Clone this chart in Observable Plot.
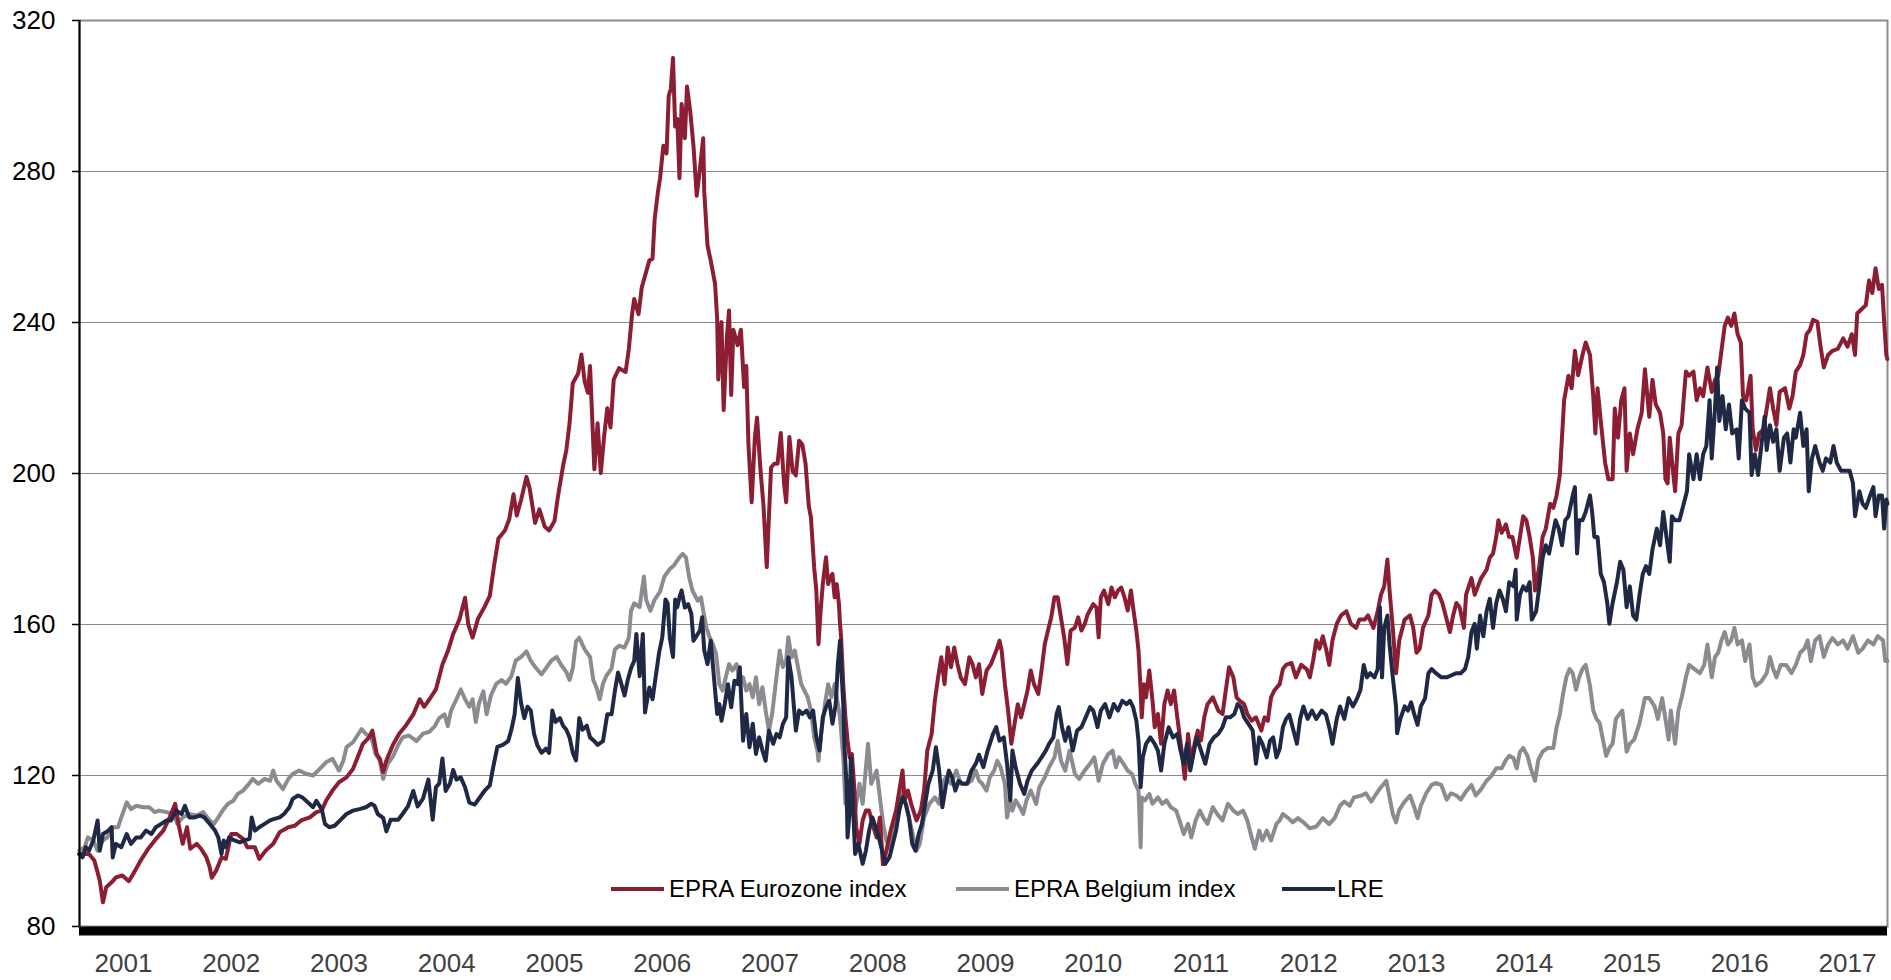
<!DOCTYPE html>
<html><head><meta charset="utf-8">
<script src="https://cdn.jsdelivr.net/npm/d3@7"></script>
<script src="https://cdn.jsdelivr.net/npm/@observablehq/plot@0.6"></script>
<style>
body{margin:0;background:#fff;}
#wrap{position:relative;width:1891px;height:980px;overflow:hidden;}
#legbox{position:absolute;left:600px;top:866px;width:795px;height:46px;background:#fff;}
.leg{position:absolute;top:875px;height:28px;line-height:28px;display:flex;align-items:center;font-family:"Liberation Sans",Arial,sans-serif;font-size:24px;color:#000;white-space:nowrap;}
.sw{display:inline-block;width:53px;height:4px;margin-right:5px;}
</style></head><body><div id="wrap"></div>
<script>
const seriesNames = ["EPRA Eurozone index", "EPRA Belgium index", "LRE"];
const seriesColors = ["#8b1e32", "#8c8c90", "#1f2945"];
const yTicks = [80, 120, 160, 200, 240, 280, 320];
const xYears = [2001,2002,2003,2004,2005,2006,2007,2008,2009,2010,2011,2012,2013,2014,2015,2016,2017];
const xDomain = [2000.592, 2017.371];

const eurozone = [
[2000.59,99.2],[2000.68,99.2],[2000.73,97.5],[2000.78,92.2],[2000.81,86.4],[2000.84,90.4],[2000.89,91.7],[2000.93,93.0],[2000.99,93.5],[2001.05,92.0],[2001.10,94.4],[2001.16,97.5],[2001.23,100.6],[2001.29,102.8],[2001.37,105.4],[2001.43,109.0],[2001.48,112.5],[2001.51,107.2],[2001.55,101.9],[2001.59,106.3],[2001.62,100.6],[2001.68,101.9],[2001.72,100.6],[2001.77,98.3],[2001.80,95.7],[2001.82,92.9],[2001.86,94.8],[2001.91,98.3],[2001.95,97.9],[2002.00,104.5],[2002.05,104.5],[2002.11,103.2],[2002.15,101.0],[2002.22,101.0],[2002.26,97.9],[2002.32,100.1],[2002.39,101.9],[2002.45,105.0],[2002.53,106.3],[2002.59,106.7],[2002.65,108.1],[2002.73,108.9],[2002.79,110.3],[2002.84,110.7],[2002.88,113.3],[2002.94,116.0],[2003.00,118.2],[2003.07,119.5],[2003.13,121.7],[2003.18,125.3],[2003.22,128.3],[2003.28,130.1],[2003.31,131.9],[2003.35,125.7],[2003.38,124.4],
[2003.41,121.0],[2003.44,124.0],[2003.50,128.1],[2003.56,131.1],[2003.62,133.2],[2003.69,136.2],[2003.75,140.2],[2003.79,138.2],[2003.84,140.2],[2003.90,142.8],[2003.96,149.4],[2004.01,152.9],[2004.06,157.5],[2004.12,161.5],[2004.17,167.1],[2004.20,160.0],[2004.24,156.5],[2004.29,161.5],[2004.35,164.6],[2004.40,167.6],[2004.44,175.7],[2004.48,182.8],[2004.54,184.9],[2004.58,187.9],[2004.62,194.5],[2004.65,188.9],[2004.69,193.0],[2004.74,199.1],[2004.77,196.0],[2004.82,186.9],[2004.86,190.5],[2004.91,185.9],[2004.95,184.9],[2005.00,187.4],[2005.03,193.5],[2005.08,202.1],[2005.11,206.2],[2005.14,213.3],[2005.17,223.9],[2005.22,226.5],[2005.25,231.5],[2005.28,224.4],[2005.31,221.4],[2005.33,228.5],[2005.37,201.1],[2005.40,213.3],[2005.43,200.1],
[2005.46,209.7],[2005.49,217.3],[2005.52,212.2],[2005.55,224.9],[2005.60,227.9],[2005.66,226.9],[2005.69,233.0],[2005.72,242.2],[2005.74,246.2],[2005.78,242.2],[2005.81,249.3],[2005.84,252.3],[2005.88,256.4],[2005.91,256.9],[2005.93,267.5],[2005.96,274.6],[2005.98,278.2],[2006.01,286.8],[2006.04,284.8],[2006.06,300.0],[2006.08,302.0],[2006.10,310.1],[2006.12,291.9],[2006.14,293.9],[2006.16,278.2],[2006.18,297.9],[2006.21,288.8],[2006.23,302.5],[2006.26,295.9],[2006.29,286.8],[2006.32,273.6],[2006.35,280.7],[2006.38,288.8],[2006.39,274.6],[2006.42,260.4],[2006.45,256.4],[2006.49,250.3],[2006.51,241.1],[2006.52,224.9],[2006.55,240.1],[2006.57,216.8],[2006.60,236.1],[2006.62,243.2],[2006.64,220.8],[2006.66,238.1],[2006.70,234.0],[2006.73,238.1],[2006.76,222.9],[2006.78,228.5],[2006.80,207.7],[2006.83,192.4],[2006.86,209.7],[2006.88,214.8],[2006.91,201.6],[2006.94,191.4],[2006.97,175.2],[2007.01,201.6],[2007.04,202.6],[2007.07,202.6],[2007.10,210.7],[2007.13,197.5],[2007.15,192.4],[2007.18,209.7],[2007.21,200.6],[2007.24,199.5],[2007.27,208.7],[2007.30,207.7],[2007.33,202.6],[2007.36,191.4],
[2007.38,188.4],[2007.40,179.6],[2007.41,175.1],[2007.43,169.0],[2007.45,154.8],[2007.47,163.7],[2007.49,170.7],[2007.52,177.8],[2007.54,170.7],[2007.56,172.5],[2007.58,173.4],[2007.60,167.2],[2007.62,170.7],[2007.64,165.4],[2007.65,160.1],
[2007.66,156.6],[2007.68,144.2],[2007.70,135.4],[2007.72,129.2],[2007.74,124.8],[2007.76,125.7],[2007.78,117.8],[2007.80,106.3],[2007.83,101.9],[2007.86,108.1],[2007.89,110.7],[2007.92,110.7],[2007.95,107.2],[2007.99,103.6],[2008.02,108.9],[2008.05,95.7],[2008.08,100.1],[2008.12,105.4],[2008.17,110.7],[2008.20,116.0],[2008.23,121.3],[2008.25,113.4],[2008.28,116.0],[2008.31,112.5],[2008.36,108.1],[2008.40,110.7],[2008.43,116.0],[2008.46,126.6],[2008.50,131.0],[2008.53,139.8],[2008.56,146.0],[2008.59,151.3],[2008.62,144.2],[2008.65,153.9],[2008.68,148.7],[2008.71,153.9],[2008.74,149.5],[2008.77,146.0],[2008.81,144.2],[2008.85,151.3],[2008.88,149.5],[2008.91,146.0],[2008.94,149.5],
[2008.97,141.6],[2009.01,147.8],[2009.05,149.5],[2009.10,153.1],[2009.13,155.7],[2009.15,153.1],[2009.18,144.2],[2009.21,137.2],[2009.24,128.4],[2009.27,133.7],[2009.30,138.9],[2009.33,135.4],[2009.36,138.9],[2009.39,142.5],[2009.42,147.8],[2009.45,144.2],[2009.49,141.6],[2009.52,147.8],[2009.55,154.8],[2009.58,158.4],[2009.61,161.9],[2009.64,167.2],[2009.67,167.2],[2009.70,161.9],[2009.73,156.6],[2009.76,149.5],[2009.79,158.4],[2009.83,159.2],[2009.86,161.9],[2009.89,158.4],[2009.92,160.1],[2009.95,162.8],[2010.00,165.4],[2010.03,164.5],[2010.05,156.6],[2010.07,167.2],[2010.10,169.0],[2010.14,165.4],[2010.17,169.8],[2010.20,167.2],[2010.23,169.0],[2010.26,169.8],[2010.29,167.2],[2010.32,163.7],[2010.35,169.0],[2010.37,164.5],[2010.40,158.4],[2010.42,153.1],[2010.44,142.5],[2010.45,135.4],[2010.47,144.2],[2010.49,140.7],[2010.52,147.8],[2010.55,139.8],[2010.57,132.8],[2010.60,136.3],[2010.63,128.4],[2010.66,138.9],[2010.69,142.5],[2010.72,138.9],[2010.75,142.5],[2010.78,135.4],[2010.82,126.6],[2010.85,119.1],[2010.88,131.0],[2010.91,123.1],[2010.94,128.4],[2010.97,131.9],[2011.00,129.3],[2011.03,135.4],[2011.06,138.9],[2011.11,140.7],[2011.16,137.2],[2011.20,136.3],[2011.23,142.5],[2011.26,148.7],[2011.30,146.0],[2011.33,140.7],[2011.36,139.8],[2011.40,138.9],[2011.43,136.3],[2011.47,134.5],[2011.51,135.4],[2011.56,131.9],[2011.59,135.4],[2011.62,134.5],[2011.65,140.7],[2011.68,142.5],[2011.73,144.2],
[2011.76,148.2],[2011.79,149.3],[2011.84,149.8],[2011.88,146.0],[2011.93,149.3],[2011.98,148.2],[2012.01,146.0],[2012.04,150.3],[2012.07,155.8],[2012.10,153.6],[2012.13,156.9],[2012.16,153.6],[2012.19,149.3],[2012.22,155.8],[2012.26,160.2],[2012.30,162.4],[2012.35,163.5],[2012.39,160.2],[2012.44,159.1],[2012.47,161.3],[2012.52,161.3],[2012.55,162.4],[2012.60,159.1],[2012.64,163.5],[2012.67,167.9],[2012.70,170.1],[2012.73,177.2],[2012.75,169.0],[2012.78,159.1],[2012.81,147.1],[2012.84,155.8],[2012.89,161.3],[2012.94,162.4],[2012.97,159.1],[2013.00,152.5],[2013.03,153.6],[2013.06,159.1],[2013.11,162.4],[2013.14,167.9],[2013.17,169.0],[2013.21,167.9],[2013.24,165.7],[2013.28,161.3],[2013.31,158.0],[2013.34,162.4],[2013.37,165.7],[2013.40,164.6],[2013.44,159.1],[2013.46,167.9],[2013.51,172.3],[2013.54,167.9],[2013.57,170.1],[2013.60,172.3],[2013.65,174.5],[2013.68,177.7],[2013.71,178.8],[2013.74,183.2],[2013.76,187.6],[2013.79,184.3],[2013.83,186.5],[2013.86,183.2],[2013.89,183.2],[2013.93,177.7],[2013.96,183.2],[2013.99,188.7],[2014.02,187.6],[2014.05,183.2],[2014.08,177.7],[2014.10,169.0],[2014.14,175.5],[2014.17,183.2],[2014.20,185.4],[2014.24,192.0],[2014.27,190.9],[2014.30,194.2],[2014.33,199.6],[2014.35,209.5],[2014.37,219.4],[2014.41,225.9],[2014.44,222.6],[2014.47,232.5],[2014.50,226.0],
[2014.54,231.4],[2014.57,234.7],[2014.61,231.4],[2014.64,220.5],[2014.66,210.6],[2014.68,222.6],[2014.71,213.9],[2014.75,202.9],[2014.78,198.5],[2014.82,198.5],[2014.84,217.2],[2014.87,209.5],[2014.90,219.4],[2014.93,222.6],[2014.95,200.7],[2014.98,210.6],[2015.01,205.1],[2015.05,211.7],[2015.09,216.1],[2015.12,227.6],[2015.16,215.0],[2015.19,224.8],[2015.22,218.3],[2015.26,216.1],[2015.29,210.6],[2015.31,198.5],[2015.33,197.4],[2015.35,209.5],[2015.38,200.7],[2015.40,195.3],[2015.43,210.6],[2015.46,212.8],[2015.50,227.0],[2015.53,225.9],[2015.57,227.0],[2015.60,219.4],[2015.63,222.6],[2015.66,220.5],[2015.70,228.1],[2015.74,221.6],[2015.77,224.8],[2015.80,225.9],[2015.83,232.5],[2015.86,239.1],[2015.89,241.3],[2015.92,239.1],[2015.95,242.4],[2015.98,236.9],[2016.01,234.7],[2016.03,220.5],[2016.06,219.4],[2016.10,225.9],[2016.12,211.7],[2016.15,206.2],[2016.18,210.6],[2016.22,211.7],[2016.25,217.2],[2016.28,222.6],[2016.31,217.2],[2016.34,212.8],[2016.37,221.6],[2016.42,222.6],[2016.46,217.2],[2016.49,220.5],[2016.52,227.0],[2016.56,228.7],[2016.59,231.4],[2016.62,236.9],[2016.65,238.0],[2016.68,240.7],[2016.72,240.2],[2016.75,233.6],[2016.78,228.1],[2016.82,231.4],[2016.86,232.5],[2016.91,233.0],[2016.96,235.8],[2017.00,233.6],[2017.04,236.9],[2017.07,231.4],[2017.09,242.4],[2017.13,243.5],[2017.17,244.6],[2017.20,251.1],[2017.23,247.8],[2017.26,254.4],[2017.29,248.9],[2017.32,250.0],[2017.34,240.2],[2017.36,231.4],[2017.37,230.3]
];

const belgium = [
[2000.59,100.1],[2000.64,101.0],[2000.67,103.6],[2000.72,102.8],[2000.76,100.1],[2000.81,102.8],[2000.85,103.6],[2000.90,106.3],[2000.95,106.3],[2000.98,108.9],[2001.03,112.9],[2001.07,111.1],[2001.12,112.0],[2001.18,111.6],[2001.24,111.6],[2001.29,110.3],[2001.33,110.7],[2001.40,110.3],[2001.46,109.8],[2001.50,107.2],[2001.55,108.9],[2001.61,109.8],[2001.68,109.4],[2001.74,110.3],[2001.80,108.1],[2001.84,107.2],[2001.88,108.9],[2001.92,110.7],[2001.97,112.5],[2002.02,113.3],[2002.06,115.1],[2002.11,116.0],[2002.15,117.3],[2002.20,119.1],[2002.25,117.8],[2002.31,119.1],[2002.36,118.6],[2002.39,121.3],[2002.42,118.6],[2002.48,116.4],[2002.53,119.1],[2002.57,120.4],[2002.63,121.3],[2002.70,120.4],[2002.76,120.0],[2002.82,121.7],[2002.88,123.5],[2002.94,124.4],[2003.00,121.3],[2003.04,123.9],[2003.07,127.5],[2003.13,128.8],[2003.18,131.0],[2003.21,132.3],[2003.25,131.0],[2003.30,130.1],[2003.34,125.7],[2003.38,123.9],
[2003.41,119.1],[2003.45,123.0],[2003.50,125.0],[2003.55,128.1],[2003.59,130.1],[2003.65,130.6],[2003.72,129.1],[2003.78,131.1],[2003.84,131.6],[2003.89,133.1],[2003.93,135.2],[2003.98,136.2],[2004.01,133.1],[2004.04,137.2],[2004.09,140.2],[2004.13,142.8],[2004.17,140.2],[2004.21,138.2],[2004.24,140.2],[2004.27,134.2],[2004.30,139.2],[2004.34,142.3],[2004.37,136.2],[2004.41,141.2],[2004.46,144.3],[2004.51,145.3],[2004.55,144.3],[2004.60,146.3],[2004.64,150.4],[2004.69,151.4],[2004.74,152.9],[2004.78,150.4],[2004.83,148.4],[2004.88,146.8],[2004.92,148.4],[2004.97,150.4],[2005.02,151.4],[2005.06,149.4],[2005.11,147.4],[2005.14,145.3],[2005.17,148.4],[2005.20,155.5],[2005.23,156.5],[2005.28,153.4],[2005.33,151.4],[2005.36,145.3],[2005.39,143.3],[2005.42,140.2],[2005.45,144.3],[2005.48,146.3],[2005.53,148.4],[2005.56,153.4],[2005.60,154.4],[2005.65,153.9],[2005.69,156.5],[2005.71,163.6],[2005.74,165.6],[2005.79,164.6],[2005.83,172.7],[2005.85,166.6],[2005.89,163.6],[2005.93,166.6],[2005.98,168.7],[2006.02,172.7],[2006.07,174.7],[2006.11,175.7],
[2006.16,177.8],[2006.19,178.7],[2006.22,177.8],[2006.25,172.5],[2006.28,169.0],[2006.33,166.3],[2006.36,167.2],[2006.38,163.7],[2006.41,159.2],[2006.44,156.6],[2006.47,154.8],[2006.50,152.2],[2006.53,144.2],[2006.56,142.5],[2006.59,146.0],[2006.62,149.5],[2006.65,147.8],[2006.69,149.5],[2006.72,144.2],[2006.75,146.0],[2006.78,142.5],[2006.81,144.2],[2006.84,140.7],[2006.87,146.0],[2006.90,138.9],[2006.93,143.4],[2006.96,137.2],[2006.99,131.9],[2007.02,136.3],[2007.06,146.0],[2007.09,153.1],[2007.12,148.7],[2007.15,150.4],[2007.17,156.6],[2007.20,151.3],[2007.23,153.1],[2007.26,148.7],[2007.29,144.2],[2007.32,142.5],[2007.35,140.7],[2007.38,137.2],[2007.41,130.1],[2007.44,126.6],[2007.45,123.9],[2007.47,130.1],[2007.51,138.9],[2007.54,144.2],[2007.57,140.7],[2007.60,144.2],[2007.63,138.9],[2007.65,135.4],[2007.68,124.8],[2007.70,112.5],[2007.72,117.8],[2007.75,114.2],[2007.78,108.9],[2007.83,117.8],[2007.86,112.5],[2007.91,128.4],[2007.94,117.8],[2007.99,121.3],[2008.02,114.2],[2008.05,107.2],[2008.08,102.8],[2008.12,100.1],[2008.16,108.9],[2008.19,112.5],[2008.22,116.0],[2008.26,112.5],[2008.31,106.3],[2008.36,100.1],[2008.39,101.9],[2008.43,108.9],[2008.48,112.5],[2008.53,114.2],[2008.57,112.5],[2008.60,117.8],[2008.63,119.5],[2008.68,117.8],[2008.73,121.3],[2008.77,117.8],[2008.82,117.8],[2008.87,118.6],[2008.91,121.3],[2008.94,118.6],
[2008.97,117.8],[2009.01,116.0],[2009.04,119.5],[2009.08,121.3],[2009.11,123.9],[2009.14,122.2],[2009.18,117.8],[2009.20,108.9],[2009.23,113.4],[2009.25,110.7],[2009.28,113.4],[2009.32,111.6],[2009.35,109.8],[2009.38,113.4],[2009.42,116.0],[2009.47,112.5],[2009.50,116.9],[2009.55,119.5],[2009.59,122.2],[2009.64,124.8],[2009.67,129.2],[2009.70,123.9],[2009.74,121.3],[2009.78,126.6],[2009.83,120.4],[2009.87,119.1],[2009.92,121.3],[2009.97,123.1],[2010.01,124.8],[2010.05,118.6],[2010.09,123.1],[2010.14,125.7],[2010.18,126.6],[2010.21,122.2],[2010.24,124.8],[2010.28,123.1],[2010.32,121.3],[2010.36,120.4],[2010.39,117.8],[2010.42,116.0],[2010.44,101.0],[2010.45,114.2],[2010.48,113.4],[2010.52,115.1],[2010.55,112.5],[2010.60,114.2],[2010.64,112.5],[2010.68,113.4],[2010.72,111.6],[2010.77,110.7],[2010.80,108.1],[2010.84,104.5],[2010.88,107.2],[2010.91,103.6],[2010.95,108.1],[2010.99,110.7],[2011.02,108.9],[2011.06,107.2],[2011.11,111.6],[2011.15,109.8],[2011.20,108.1],[2011.25,112.5],[2011.30,110.7],[2011.34,109.8],[2011.39,110.7],[2011.43,108.1],[2011.47,103.6],[2011.50,100.6],[2011.54,105.4],[2011.57,102.8],[2011.61,105.4],[2011.65,102.8],[2011.70,107.2],[2011.73,108.1],
[2011.76,109.8],[2011.81,108.7],[2011.85,107.6],[2011.90,108.7],[2011.95,107.6],[2012.01,106.0],[2012.07,106.5],[2012.13,108.7],[2012.19,107.1],[2012.24,108.7],[2012.29,112.0],[2012.33,113.1],[2012.38,112.0],[2012.42,114.2],[2012.49,114.7],[2012.53,115.3],[2012.58,113.1],[2012.63,115.3],[2012.67,116.9],[2012.72,118.6],[2012.75,114.2],[2012.78,109.8],[2012.81,107.6],[2012.84,110.9],[2012.89,113.1],[2012.94,114.7],[2012.98,111.5],[2013.01,108.7],[2013.04,112.0],[2013.09,115.3],[2013.14,117.5],[2013.18,118.0],[2013.23,117.5],[2013.28,113.6],[2013.32,115.3],[2013.37,114.7],[2013.41,113.6],[2013.46,115.8],[2013.51,117.5],[2013.55,114.7],[2013.60,116.4],[2013.65,118.6],[2013.69,119.7],[2013.74,121.9],[2013.79,121.9],[2013.83,124.1],[2013.86,125.2],[2013.90,124.6],[2013.93,121.9],[2013.96,126.3],[2013.99,127.3],[2014.03,125.2],[2014.06,121.9],[2014.10,118.6],[2014.13,124.1],[2014.17,126.3],[2014.22,127.3],[2014.27,127.3],[2014.30,132.8],[2014.33,136.1],[2014.36,141.6],[2014.39,146.0],[2014.42,148.2],[2014.45,147.1],[2014.48,142.7],[2014.51,146.0],
[2014.54,148.2],[2014.57,149.3],[2014.61,143.8],[2014.64,137.2],[2014.67,135.0],[2014.70,133.9],[2014.73,129.5],[2014.76,125.2],[2014.79,127.3],[2014.82,128.4],[2014.85,135.0],[2014.88,136.1],[2014.91,137.2],[2014.95,126.3],[2014.98,128.4],[2015.02,129.5],[2015.07,133.9],[2015.12,140.5],[2015.16,140.5],[2015.21,138.3],[2015.24,135.0],[2015.28,140.5],[2015.31,135.0],[2015.34,129.5],[2015.36,137.2],[2015.40,128.4],[2015.43,137.2],[2015.46,140.5],[2015.50,146.0],[2015.53,149.3],[2015.58,148.2],[2015.63,147.1],[2015.67,149.3],[2015.70,154.7],[2015.74,146.0],[2015.77,151.4],[2015.80,152.5],[2015.83,155.8],[2015.86,158.0],[2015.89,154.7],[2015.92,155.8],[2015.95,159.1],[2015.98,154.7],[2016.02,155.8],[2016.05,150.3],[2016.09,154.7],[2016.12,146.0],[2016.15,143.8],[2016.20,144.9],[2016.25,147.1],[2016.28,151.4],[2016.31,148.2],[2016.34,146.0],[2016.38,149.3],[2016.43,149.3],[2016.48,147.1],[2016.52,149.3],[2016.56,152.5],[2016.60,153.6],[2016.63,155.8],[2016.66,150.3],[2016.70,155.8],[2016.74,156.9],[2016.78,151.4],[2016.82,154.7],[2016.86,156.4],[2016.91,154.7],[2016.96,155.8],[2017.00,153.6],[2017.05,156.9],[2017.10,152.5],[2017.14,153.6],[2017.19,155.8],[2017.24,154.7],[2017.28,156.9],[2017.33,155.8],[2017.35,150.3],[2017.37,150.3]
];

const lre = [
[2000.59,99.2],[2000.62,98.3],[2000.65,101.0],[2000.68,100.1],[2000.72,102.8],[2000.76,108.1],[2000.78,100.1],[2000.81,104.5],[2000.86,105.4],[2000.89,106.3],[2000.90,98.3],[2000.93,101.9],[2000.98,101.0],[2001.03,104.5],[2001.07,101.9],[2001.12,103.6],[2001.16,103.6],[2001.21,105.4],[2001.26,104.5],[2001.30,106.3],[2001.35,107.2],[2001.40,108.1],[2001.44,108.1],[2001.49,110.7],[2001.54,109.8],[2001.57,112.0],[2001.61,108.9],[2001.66,108.9],[2001.71,109.4],[2001.75,108.9],[2001.80,107.2],[2001.85,105.4],[2001.88,103.6],[2001.91,99.2],[2001.93,102.8],[2001.95,101.0],[2001.98,103.6],[2002.03,102.8],[2002.08,102.3],[2002.12,102.8],[2002.17,103.2],[2002.19,108.9],[2002.22,105.4],[2002.26,106.3],[2002.31,107.2],[2002.36,108.1],[2002.40,108.5],[2002.45,108.9],[2002.49,109.8],[2002.54,111.6],[2002.57,113.8],[2002.62,114.7],[2002.66,114.2],[2002.71,112.9],[2002.76,111.6],[2002.79,113.3],[2002.84,111.1],[2002.87,107.2],[2002.91,106.3],[2002.96,106.7],[2003.01,108.1],[2003.07,109.8],[2003.13,110.7],[2003.19,111.1],[2003.25,111.6],[2003.30,112.5],[2003.33,112.0],[2003.36,109.8],
[2003.41,108.8],[2003.44,105.2],[2003.48,108.3],[2003.55,108.3],[2003.59,109.8],[2003.64,111.8],[2003.69,115.9],[2003.73,111.8],[2003.78,113.9],[2003.83,118.9],[2003.87,108.3],[2003.90,116.9],[2003.93,117.9],[2003.96,124.5],[2003.99,115.9],[2004.03,117.9],[2004.06,121.5],[2004.09,118.9],[2004.13,119.5],[2004.17,116.9],[2004.21,112.8],[2004.26,112.3],[2004.30,113.9],[2004.35,115.9],[2004.40,117.4],[2004.43,122.0],[2004.47,127.6],[2004.52,128.1],[2004.57,129.1],[2004.60,132.1],[2004.63,136.2],[2004.66,145.8],[2004.69,139.2],[2004.72,135.2],[2004.75,138.2],[2004.78,137.2],[2004.81,131.1],[2004.84,128.1],[2004.88,126.0],[2004.92,127.1],[2004.95,126.0],[2004.98,137.2],[2005.01,134.2],[2005.05,135.2],[2005.08,133.2],[2005.11,132.1],[2005.14,130.1],[2005.17,126.0],[2005.20,124.0],[2005.23,135.2],[2005.26,132.1],[2005.30,133.2],[2005.33,130.1],[2005.37,129.1],[2005.40,128.1],[2005.45,129.1],[2005.49,136.2],[2005.53,136.2],[2005.56,142.3],[2005.59,147.3],[2005.62,144.3],[2005.65,141.2],[2005.68,145.3],[2005.71,148.4],[2005.74,150.4],[2005.76,157.5],[2005.79,146.3],[2005.82,157.5],[2005.84,136.7],[2005.88,143.3],[2005.91,140.2],[2005.94,146.3],[2005.97,152.4],[2006.00,156.5],[2006.03,166.6],[2006.05,165.6],[2006.07,156.5],[2006.10,151.4],[2006.12,166.6],[2006.14,164.6],
[2006.16,167.2],[2006.18,169.0],[2006.21,164.5],[2006.24,165.4],[2006.27,162.8],[2006.29,155.7],[2006.31,156.6],[2006.35,158.4],[2006.37,161.9],[2006.39,153.1],[2006.42,149.5],[2006.45,155.7],[2006.48,146.0],[2006.51,136.3],[2006.53,138.9],[2006.55,134.5],[2006.58,138.9],[2006.61,144.2],[2006.64,138.1],[2006.67,145.1],[2006.70,144.2],[2006.72,148.7],[2006.75,129.2],[2006.78,136.3],[2006.81,127.5],[2006.84,133.7],[2006.87,125.7],[2006.90,130.1],[2006.93,126.6],[2006.96,123.9],[2006.99,131.9],[2007.03,128.4],[2007.06,131.0],[2007.09,130.1],[2007.12,133.7],[2007.15,135.4],[2007.17,151.3],[2007.20,146.0],[2007.22,138.9],[2007.24,131.9],[2007.27,137.2],[2007.30,136.3],[2007.34,137.2],[2007.37,135.4],[2007.40,137.2],[2007.43,130.1],[2007.46,126.6],[2007.49,135.4],[2007.52,138.1],[2007.55,139.8],[2007.58,133.7],[2007.61,138.9],[2007.63,149.5],[2007.65,155.7],[2007.66,149.5],[2007.68,138.9],[2007.69,128.4],[2007.71,117.8],[2007.72,103.6],[2007.74,110.7],[2007.75,124.8],[2007.77,112.5],[2007.79,99.2],[2007.82,101.9],[2007.86,96.6],[2007.89,100.1],[2007.92,105.4],[2007.95,108.9],[2007.98,106.3],[2008.01,103.6],[2008.04,100.1],[2008.07,96.6],[2008.11,98.4],[2008.14,101.9],[2008.17,105.4],[2008.20,110.7],[2008.23,114.2],[2008.26,112.5],[2008.29,108.9],[2008.32,101.9],[2008.35,100.1],[2008.38,104.5],[2008.41,107.2],[2008.44,112.5],[2008.47,117.8],[2008.51,121.3],[2008.54,127.5],[2008.57,121.3],[2008.60,111.6],[2008.63,116.9],[2008.66,121.3],[2008.69,119.5],[2008.72,116.0],[2008.75,118.6],[2008.79,117.8],[2008.83,117.8],[2008.87,121.3],[2008.91,123.1],[2008.94,125.5],
[2008.98,122.2],[2009.02,126.6],[2009.07,131.0],[2009.10,132.8],[2009.13,129.2],[2009.17,130.1],[2009.20,123.1],[2009.23,113.4],[2009.25,126.6],[2009.28,122.2],[2009.32,117.8],[2009.36,115.1],[2009.39,118.6],[2009.43,121.3],[2009.48,123.1],[2009.52,124.8],[2009.56,126.6],[2009.59,128.4],[2009.63,130.1],[2009.66,136.3],[2009.68,138.1],[2009.71,132.8],[2009.74,129.2],[2009.77,132.8],[2009.81,126.6],[2009.85,131.9],[2009.89,132.8],[2009.93,135.4],[2009.97,138.1],[2010.00,137.2],[2010.04,132.8],[2010.07,137.2],[2010.11,138.9],[2010.15,135.4],[2010.19,138.9],[2010.23,137.2],[2010.27,139.8],[2010.31,138.9],[2010.34,139.8],[2010.37,138.1],[2010.40,134.5],[2010.42,129.2],[2010.44,116.9],[2010.46,124.8],[2010.49,128.4],[2010.53,130.1],[2010.57,128.4],[2010.60,126.6],[2010.63,121.3],[2010.66,128.4],[2010.70,132.8],[2010.74,130.1],[2010.78,131.0],[2010.81,126.6],[2010.84,123.1],[2010.87,128.4],[2010.90,121.3],[2010.93,125.7],[2010.96,130.1],[2011.00,126.6],[2011.04,123.1],[2011.08,128.4],[2011.12,130.1],[2011.16,131.0],[2011.20,132.8],[2011.23,135.4],[2011.27,135.4],[2011.31,136.3],[2011.34,138.9],[2011.37,138.1],[2011.40,135.4],[2011.44,133.7],[2011.48,131.9],[2011.51,123.1],[2011.54,130.1],[2011.57,128.4],[2011.61,124.8],[2011.64,129.2],[2011.67,130.1],[2011.70,124.8],[2011.73,127.0],
[2011.76,132.8],[2011.79,135.0],[2011.82,136.1],[2011.86,131.7],[2011.89,128.4],[2011.92,135.0],[2011.95,138.3],[2011.99,135.0],[2012.03,137.2],[2012.07,135.0],[2012.12,137.2],[2012.16,136.1],[2012.19,132.8],[2012.22,128.4],[2012.26,135.0],[2012.29,138.3],[2012.33,135.0],[2012.37,140.5],[2012.41,138.3],[2012.45,140.5],[2012.48,142.7],[2012.51,149.3],[2012.54,146.0],[2012.57,147.1],[2012.61,146.0],[2012.64,148.2],[2012.66,164.6],[2012.68,146.0],[2012.70,159.1],[2012.73,162.4],[2012.75,154.7],[2012.78,146.0],[2012.81,138.3],[2012.82,131.2],[2012.85,135.0],[2012.89,138.3],[2012.92,137.2],[2012.95,139.4],[2012.98,136.1],[2013.01,133.4],[2013.04,138.3],[2013.08,140.5],[2013.11,147.1],[2013.14,148.2],[2013.18,147.1],[2013.23,146.0],[2013.28,146.0],[2013.32,146.5],[2013.37,147.1],[2013.41,147.1],[2013.45,148.2],[2013.48,151.4],[2013.51,158.0],[2013.54,160.2],[2013.56,153.6],[2013.59,162.4],[2013.62,156.9],[2013.65,163.5],[2013.68,166.8],[2013.71,159.1],[2013.74,165.7],[2013.77,169.0],[2013.80,166.8],[2013.83,163.5],[2013.86,171.2],[2013.90,170.1],[2013.92,174.5],[2013.93,161.3],[2013.96,167.9],[2013.99,170.1],[2014.02,169.0],[2014.05,171.2],[2014.07,161.3],[2014.11,163.5],[2014.14,170.1],[2014.17,177.7],[2014.20,181.0],[2014.23,178.8],[2014.26,183.2],[2014.29,187.6],[2014.32,185.4],[2014.35,181.0],[2014.38,187.6],[2014.41,188.7],[2014.45,194.2],[2014.47,196.4],[2014.49,178.8],[2014.51,187.6],
[2014.54,187.6],[2014.57,189.8],[2014.61,194.2],[2014.63,189.8],[2014.65,183.2],[2014.68,183.2],[2014.71,173.4],[2014.74,171.2],[2014.77,165.7],[2014.79,160.2],[2014.82,165.7],[2014.86,171.2],[2014.89,176.6],[2014.92,174.5],[2014.95,164.6],[2014.98,170.1],[2015.01,162.4],[2015.04,161.3],[2015.07,167.9],[2015.10,173.4],[2015.13,175.5],[2015.16,173.4],[2015.19,179.9],[2015.23,185.4],[2015.26,181.0],[2015.29,189.8],[2015.32,183.2],[2015.35,176.6],[2015.37,188.7],[2015.40,187.6],[2015.44,187.6],[2015.48,192.0],[2015.51,195.3],[2015.53,205.1],[2015.57,198.5],[2015.60,205.1],[2015.63,198.5],[2015.66,205.1],[2015.69,207.3],[2015.72,219.4],[2015.74,204.0],[2015.77,217.2],[2015.79,228.1],[2015.81,213.9],[2015.84,220.5],[2015.87,211.7],[2015.90,218.3],[2015.93,210.6],[2015.97,211.7],[2015.99,204.0],[2016.02,219.4],[2016.05,217.2],[2016.09,216.1],[2016.11,199.6],[2016.14,205.1],[2016.17,199.6],[2016.20,207.3],[2016.23,215.0],[2016.25,206.2],[2016.28,212.8],[2016.31,208.4],[2016.34,211.7],[2016.37,200.7],[2016.41,209.5],[2016.44,210.6],[2016.47,202.9],[2016.50,211.7],[2016.52,209.5],[2016.56,216.1],[2016.59,207.3],[2016.62,211.7],[2016.64,195.3],[2016.67,204.0],[2016.70,207.3],[2016.74,202.9],[2016.77,200.7],[2016.80,204.0],[2016.84,202.9],[2016.87,207.3],[2016.90,202.9],[2016.94,200.7],[2016.98,200.7],[2017.02,200.7],[2017.05,197.5],[2017.07,188.7],[2017.11,195.3],[2017.14,192.0],[2017.17,190.9],[2017.21,194.2],[2017.24,196.4],[2017.26,188.7],[2017.29,194.2],[2017.32,194.2],[2017.34,185.4],[2017.36,193.1],[2017.37,192.0]
];

const seriesData = [eurozone, belgium, lre];
const drawOrder = [1, 0, 2];

const chart = Plot.plot({
  width: 1891,
  height: 980,
  marginLeft: 79,
  marginRight: 4,
  marginTop: 20,
  marginBottom: 54,
  style: {background: "transparent", fontFamily: "'Liberation Sans', Arial, sans-serif", overflow: "visible"},
  x: {type: "linear", domain: xDomain},
  y: {domain: [yTicks[0], yTicks[yTicks.length - 1]]},
  marks: [
    Plot.ruleY(yTicks.slice(1, -1), {stroke: "#8a8a8a", strokeWidth: 1}),
    Plot.frame({stroke: "#8c8c8c", strokeWidth: 2}),
    ...drawOrder.map(i => Plot.line(seriesData[i], {
      x: d => d[0], y: d => d[1],
      stroke: seriesColors[i], strokeWidth: 4,
      strokeLinejoin: "round", strokeLinecap: "round"
    })),
    Plot.ruleX([xDomain[0]], {stroke: "#000", strokeWidth: 2}),
    Plot.ruleY([yTicks[0]], {stroke: "#000", strokeWidth: 9, dy: 4.5}),
    Plot.axisY(yTicks, {
      tickSize: 7, tickPadding: 17, fontSize: 26,
      fontFamily: "'Liberation Sans', Arial, sans-serif",
      fill: "#000", stroke: "#000", strokeWidth: 1.5, label: null
    }),
    Plot.axisX(xYears, {
      tickSize: 0, tickPadding: 27, fontSize: 26,
      fontFamily: "'Liberation Sans Narrow', 'Arial Narrow', sans-serif",
      fill: "#404040", tickFormat: d => String(d), label: null
    })
  ]
});

const wrap = document.getElementById("wrap");
wrap.appendChild(chart);

const legBox = document.createElement("div");
legBox.id = "legbox";
wrap.appendChild(legBox);

const legendLeft = [611, 956, 1282];
seriesNames.forEach((name, i) => {
  const item = document.createElement("div");
  item.className = "leg";
  item.style.left = legendLeft[i] + "px";
  const sw = document.createElement("span");
  sw.className = "sw";
  sw.style.background = seriesColors[i];
  if (i === 2) sw.style.marginRight = "2px";
  item.appendChild(sw);
  item.appendChild(document.createTextNode(name));
  wrap.appendChild(item);
});
</script>
</body></html>
